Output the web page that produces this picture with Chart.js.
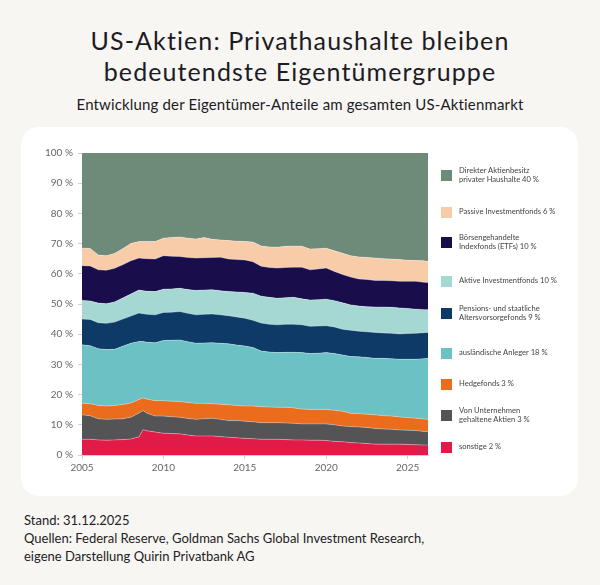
<!DOCTYPE html>
<html lang="de">
<head>
<meta charset="utf-8">
<script src="https://cdn.jsdelivr.net/npm/chart.js@4.4.1/dist/chart.umd.min.js"></script>
<style>
  body { margin: 0; width: 600px; height: 585px; background: #f8f6f3; font-family: Lato, "Open Sans", sans-serif; color: #1c1c24; position: relative; overflow: hidden; }
  .title { position: absolute; left: 0; width: 600px; top: 25px; text-align: center; font-size: 25px; line-height: 31px; font-weight: 400; letter-spacing: 1.1px; }
  .subtitle { position: absolute; left: 0; width: 600px; top: 95px; text-align: center; font-size: 15px; font-weight: 400; letter-spacing: 0.15px; }
  .card { position: absolute; left: 21px; top: 127px; width: 557px; height: 369px; background: #fff; border-radius: 18px; }
  .card canvas { position: absolute; left: 0; top: 0; }
  .legend { position: absolute; left: 0; top: 0; }
  .item { position: absolute; left: 420px; display: flex; align-items: center; white-space: nowrap; font-size: 7.6px; line-height: 9.5px; color: #444; }
  .item span.box { width: 11px; height: 11px; margin-right: 7px; flex: none; }
  .foot { position: absolute; left: 24px; top: 511px; font-size: 13px; line-height: 18px; color: #222; }
</style>
</head>
<body>
<div class="title">US-Aktien: Privathaushalte bleiben<br>bedeutendste Eigentümergruppe</div>
<div class="subtitle">Entwicklung der Eigentümer-Anteile am gesamten US-Aktienmarkt</div>
<div class="card">
  <canvas id="shareCanvas" width="557" height="369"></canvas>
  <div class="legend" id="legend"></div>
</div>
<div class="foot">Stand: 31.12.2025<br>Quellen: Federal Reserve, Goldman Sachs Global Investment Research,<br>eigene Darstellung Quirin Privatbank AG</div>

<script>
// Zeitpunkte (Halbjahre, plus Spitze 2008/09)
const times = [2005, 2005.5, 2006, 2006.5, 2007, 2007.5, 2008, 2008.5, 2008.75, 2009, 2009.5,
  2010, 2010.5, 2011, 2011.5, 2012, 2012.5, 2013, 2013.5, 2014, 2014.5,
  2015, 2015.5, 2016, 2016.5, 2017, 2017.5, 2018, 2018.5, 2019, 2019.5,
  2020, 2020.5, 2021, 2021.5, 2022, 2022.5, 2023, 2023.5, 2024, 2024.5,
  2025, 2025.5, 2026, 2026.25];

// Anteile in % (von unten nach oben gestapelt)
const sonstige = [5.2, 5.2, 5.0, 4.9, 5.0, 5.1, 5.3, 6.0, 8.4, 8.0, 7.6,
  7.2, 7.1, 7.0, 6.6, 6.3, 6.3, 6.3, 6.1, 5.9, 5.7,
  5.5, 5.4, 5.2, 5.2, 5.2, 5.1, 5.0, 5.0, 4.9, 4.9,
  4.8, 4.5, 4.4, 4.1, 4.0, 3.8, 3.6, 3.6, 3.6, 3.6,
  3.5, 3.4, 3.3, 3.3];
const unternehmen = [8.1, 7.8, 7.0, 6.9, 6.9, 6.9, 7.2, 7.9, 6.3, 5.8, 5.3,
  5.7, 5.6, 5.5, 5.5, 5.5, 5.7, 5.9, 5.7, 5.5, 5.7,
  5.7, 5.6, 5.5, 5.5, 5.5, 5.5, 5.5, 5.3, 5.4, 5.4,
  5.5, 5.5, 5.2, 5.3, 5.3, 5.3, 5.2, 5.0, 4.9, 4.7,
  4.7, 4.7, 4.5, 4.4];
const hedgefonds = [3.8, 4.0, 4.4, 4.4, 4.5, 4.7, 4.7, 4.5, 4.2, 4.7, 5.1,
  5.1, 5.1, 5.2, 5.3, 5.3, 5.1, 4.8, 5.0, 5.2, 5.0,
  5.0, 5.2, 5.3, 5.2, 5.1, 5.2, 5.1, 4.9, 4.8, 4.8,
  4.8, 4.8, 4.9, 4.4, 4.4, 4.4, 4.5, 4.4, 4.4, 4.3,
  4.2, 4.1, 4.1, 4.1];
const auslaendisch = [19.4, 19.2, 18.8, 18.7, 18.6, 19.3, 19.8, 19.2, 18.7, 18.8, 19.2,
  19.9, 20.2, 20.4, 20.1, 19.9, 20.0, 20.2, 20.2, 20.2, 20.0,
  19.9, 19.4, 18.4, 18.2, 18.1, 18.2, 18.4, 18.7, 18.5, 18.6,
  18.8, 18.8, 18.6, 18.8, 18.8, 18.8, 18.7, 19.0, 19.0, 19.1,
  19.3, 19.5, 20.0, 20.2];
const pension = [8.5, 8.7, 8.6, 8.7, 9.0, 9.0, 9.0, 9.4, 9.2, 9.3, 9.2,
  9.3, 9.3, 9.4, 9.4, 9.4, 9.5, 9.5, 9.4, 9.3, 9.3,
  9.2, 9.0, 9.3, 9.2, 9.2, 9.3, 9.3, 9.2, 9.0, 9.0,
  8.9, 8.8, 8.5, 8.7, 8.5, 8.5, 8.6, 8.4, 8.4, 8.4,
  8.5, 8.6, 8.6, 8.6];
const aktiv = [6.2, 6.1, 6.5, 6.5, 6.7, 7.0, 7.3, 7.6, 7.6, 7.6, 7.7,
  7.7, 7.7, 7.7, 7.9, 8.1, 8.0, 8.0, 8.0, 8.0, 8.3,
  8.5, 9.0, 8.9, 8.9, 8.8, 8.8, 8.9, 8.6, 8.7, 8.7,
  8.8, 8.7, 8.8, 8.4, 8.3, 8.3, 8.4, 8.6, 8.6, 8.6,
  8.3, 8.0, 7.6, 7.5];
const etfs = [11.5, 11.6, 11.0, 11.1, 11.1, 11.0, 11.0, 10.6, 10.7, 10.8, 10.8,
  11.1, 10.8, 10.5, 10.6, 10.7, 10.7, 10.7, 11.1, 10.8, 10.7,
  10.8, 10.4, 9.9, 9.9, 10.0, 10.0, 10.0, 10.5, 10.0, 10.2,
  10.3, 9.7, 9.4, 9.2, 9.0, 9.0, 8.8, 8.8, 8.8, 8.8,
  9.0, 9.2, 9.1, 9.0];
const passiv = [5.8, 5.8, 4.9, 4.8, 4.9, 5.3, 5.7, 5.5, 5.6, 5.7, 5.8,
  5.8, 6.2, 6.5, 6.4, 6.3, 6.7, 6.0, 5.7, 6.1, 6.1,
  6.1, 6.5, 6.7, 6.8, 6.9, 7.0, 7.0, 6.9, 6.9, 6.7,
  6.6, 6.8, 7.0, 7.1, 7.3, 7.3, 7.4, 7.2, 7.2, 7.2,
  7.0, 6.9, 7.1, 7.0];
const direkt = [31.5, 31.6, 33.8, 34.0, 33.3, 31.7, 30.0, 29.3, 29.3, 29.3, 29.3,
  28.2, 28.0, 27.8, 28.2, 28.5, 28.0, 28.6, 28.8, 29.0, 29.2,
  29.3, 29.5, 30.8, 31.1, 31.2, 30.9, 30.8, 30.9, 31.8, 31.7,
  31.5, 32.4, 33.2, 34.0, 34.4, 34.6, 34.8, 35.0, 35.1, 35.3,
  35.5, 35.6, 35.8, 35.9];

const yearTicks = [2005, 2010, 2015, 2020, 2025];

const series = [
  { label: ['sonstige 2 %'], data: sonstige, color: '#e21a47' },
  { label: ['Von Unternehmen', 'gehaltene Aktien 3 %'], data: unternehmen, color: '#545457' },
  { label: ['Hedgefonds 3 %'], data: hedgefonds, color: '#ea6c1c' },
  { label: ['ausländische Anleger 18 %'], data: auslaendisch, color: '#6cc1c4' },
  { label: ['Pensions- und staatliche', 'Altersvorsorgefonds 9 %'], data: pension, color: '#0e3a68' },
  { label: ['Aktive Investmentfonds 10 %'], data: aktiv, color: '#a6d8d3' },
  { label: ['Börsengehandelte', 'Indexfonds (ETFs) 10 %'], data: etfs, color: '#190e4b' },
  { label: ['Passive Investmentfonds 6 %'], data: passiv, color: '#f8cca9' },
  { label: ['Direkter Aktienbesitz', 'privater Haushalte 40 %'], data: direkt, color: '#6e8a78' }
];

// legend on the right, top entry first
const legendTops = [447, 415, 384, 353, 313, 281, 242, 212, 175];
const legend = document.getElementById('legend');
series.forEach((s, i) => {
  const div = document.createElement('div');
  div.className = 'item';
  div.innerHTML = "<span class='box' style='background:" + s.color + "'></span><span>" + s.label.join('<br>') + "</span>";
  legend.appendChild(div);
  const h = div.offsetHeight;
  div.style.top = (legendTops[i] - 127 - h / 2) + 'px';
});

new Chart(document.getElementById('shareCanvas'), {
  type: 'line',
  data: {
    datasets: series.map((s, i) => ({
      label: s.label.join(' '),
      data: times.map((t, k) => ({ x: t, y: s.data[k] })),
      backgroundColor: s.color,
      borderColor: i === series.length - 1 ? s.color : 'rgba(255,255,255,0.45)',
      borderWidth: i === series.length - 1 ? 0 : 0.7,
      fill: i === 0 ? 'origin' : '-1',
      pointRadius: 0,
      tension: 0
    }))
  },
  options: {
    responsive: false,
    animation: false,
    layout: { padding: { top: 26, right: 150, left: 0, bottom: 0 } },
    plugins: { legend: { display: false }, tooltip: { enabled: false } },
    scales: {
      x: {
        type: 'linear',
        min: 2005,
        max: 2026.25,
        afterBuildTicks: scale => { scale.ticks = yearTicks.map(v => ({ value: v })); },
        afterFit: scale => { scale.height = 41; },
        ticks: { callback: v => String(v), color: '#666', font: { family: 'Lato', size: 10 }, padding: 3, maxRotation: 0 },
        grid: { drawOnChartArea: false, tickLength: 4, color: '#d0d0d0' },
        border: { color: '#d0d0d0' }
      },
      y: {
        stacked: true,
        min: 0,
        max: 100,
        afterFit: scale => { scale.width = 61; },
        ticks: { stepSize: 10, callback: v => v + ' %', color: '#666', font: { family: 'Lato', size: 10 }, padding: 5 },
        grid: { drawOnChartArea: false, tickLength: 4, color: '#d0d0d0' },
        border: { color: '#d0d0d0' }
      }
    }
  }
});
</script>
</body>
</html>
